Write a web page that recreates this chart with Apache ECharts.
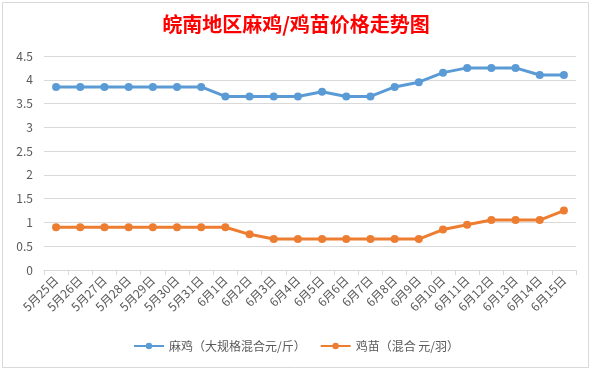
<!DOCTYPE html>
<html>
<head>
<meta charset="utf-8">
<script src="https://cdn.jsdelivr.net/npm/echarts@6/dist/echarts.min.js"></script>
<style>html,body{margin:0;padding:0;background:#fff;}#c{width:592px;height:371px;}</style>
</head>
<body>
<div id="c"></div>
<script>
var categories = ['5月25日','5月26日','5月27日','5月28日','5月29日','5月30日','5月31日','6月1日','6月2日','6月3日','6月4日','6月5日','6月6日','6月7日','6月8日','6月9日','6月10日','6月11日','6月12日','6月13日','6月14日','6月15日'];
var maji = [3.85,3.85,3.85,3.85,3.85,3.85,3.85,3.65,3.65,3.65,3.65,3.75,3.65,3.65,3.85,3.95,4.15,4.25,4.25,4.25,4.1,4.1];
var jimiao = [0.9,0.9,0.9,0.9,0.9,0.9,0.9,0.9,0.75,0.65,0.65,0.65,0.65,0.65,0.65,0.65,0.85,0.95,1.05,1.05,1.05,1.25];
var seriesNames = ['麻鸡（大规格混合元/斤）','鸡苗（混合 元/羽）'];
var titleText = '皖南地区麻鸡/鸡苗价格走势图';

var font = '"Noto Sans CJK SC", "Noto Sans", sans-serif';
var chart = echarts.init(document.getElementById('c'), null, {renderer: 'canvas'});
chart.setOption({
  animation: false,
  textStyle: {fontFamily: font},
  title: {
    text: titleText,
    left: 'center',
    top: 9,
    textStyle: {color: '#ff0000', fontSize: 20, fontWeight: 'bold', fontFamily: font}
  },
  legend: {
    bottom: 14,
    left: 'center',
    itemWidth: 30,
    itemHeight: 8,
    itemGap: 14,
    textStyle: {color: '#595959', fontSize: 12, fontFamily: font},
    data: seriesNames
  },
  grid: {left: 44, right: 16, top: 56, bottom: 101},
  xAxis: {
    type: 'category',
    data: categories,
    boundaryGap: true,
    axisLine: {lineStyle: {color: '#d9d9d9', width: 1}},
    axisTick: {show: true, alignWithLabel: false, length: 5, lineStyle: {color: '#d9d9d9'}},
    axisLabel: {color: '#595959', fontSize: 12, rotate: 45, interval: 0, margin: 8, fontFamily: font}
  },
  yAxis: {
    type: 'value',
    min: 0,
    max: 4.5,
    interval: 0.5,
    axisLine: {show: false},
    axisTick: {show: false},
    axisLabel: {color: '#595959', fontSize: 12, margin: 11, fontFamily: font},
    splitLine: {lineStyle: {color: '#d9d9d9', width: 1}}
  },
  series: [
    {
      name: seriesNames[0], type: 'line', data: maji,
      symbol: 'circle', symbolSize: 8,
      lineStyle: {color: '#5b9bd5', width: 3},
      itemStyle: {color: '#5b9bd5'}
    },
    {
      name: seriesNames[1], type: 'line', data: jimiao,
      symbol: 'circle', symbolSize: 8,
      lineStyle: {color: '#ed7d31', width: 3},
      itemStyle: {color: '#ed7d31'}
    }
  ],
  graphic: [
    {type: 'rect', shape: {x: 2.5, y: 2.5, width: 586, height: 365}, style: {fill: 'none', stroke: '#d9d9d9', lineWidth: 1}, silent: true}
  ]
});
</script>
</body>
</html>
